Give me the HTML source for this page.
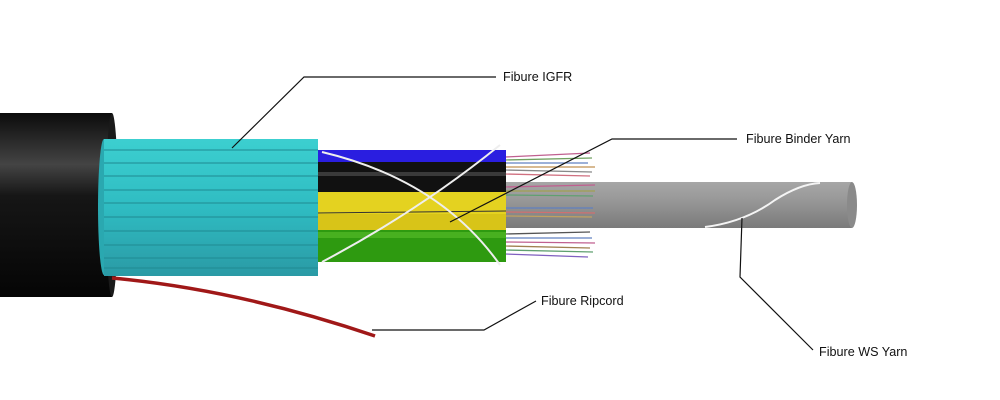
<!DOCTYPE html>
<html><head><meta charset="utf-8">
<style>
html,body{margin:0;padding:0;background:#fff;width:1000px;height:400px;overflow:hidden}
text{font-family:"Liberation Sans",sans-serif;font-size:12.6px;fill:#111}
</style></head>
<body>
<svg width="1000" height="400" viewBox="0 0 1000 400" xmlns="http://www.w3.org/2000/svg">
<defs>
<linearGradient id="jk" x1="0" y1="0" x2="0" y2="1">
<stop offset="0" stop-color="#0b0b0b"/><stop offset="0.28" stop-color="#444"/><stop offset="0.45" stop-color="#161616"/><stop offset="1" stop-color="#050505"/></linearGradient>
<linearGradient id="gr" x1="0" y1="0" x2="0" y2="1">
<stop offset="0" stop-color="#a6a6a6"/><stop offset="0.35" stop-color="#9a9a9a"/><stop offset="1" stop-color="#7a7a7a"/></linearGradient>
<linearGradient id="cy" x1="0" y1="0" x2="0" y2="1">
<stop offset="0" stop-color="#3ccfd0"/><stop offset="0.5" stop-color="#2fbcc2"/><stop offset="1" stop-color="#2a9aa5"/></linearGradient>
</defs>
<g>
<rect x="500" y="182" width="352" height="46" fill="url(#gr)"/>
<ellipse cx="852" cy="205" rx="5" ry="23" fill="#8a8a8a"/>
</g>
<g stroke-width="1.3">
<line x1="505" y1="157" x2="590" y2="153" stroke="#c06090"/><line x1="505" y1="160" x2="592" y2="158" stroke="#70a060"/>
<line x1="505" y1="163" x2="588" y2="163" stroke="#6080c0"/><line x1="505" y1="167" x2="595" y2="167" stroke="#c09050"/>
<line x1="505" y1="170" x2="592" y2="172" stroke="#888"/><line x1="505" y1="174" x2="590" y2="176" stroke="#d07080"/>
<line x1="505" y1="187" x2="595" y2="185" stroke="#c06090"/><line x1="505" y1="191" x2="595" y2="191" stroke="#a0a050"/>
<line x1="505" y1="195" x2="593" y2="196" stroke="#60a070"/><line x1="505" y1="208" x2="593" y2="208" stroke="#6080c0"/>
<line x1="505" y1="212" x2="595" y2="213" stroke="#d07070"/><line x1="505" y1="216" x2="592" y2="217" stroke="#c0a060"/>
<line x1="505" y1="234" x2="590" y2="232" stroke="#555"/><line x1="505" y1="238" x2="592" y2="238" stroke="#6080c0"/>
<line x1="505" y1="242" x2="595" y2="243" stroke="#c06090"/><line x1="505" y1="246" x2="590" y2="248" stroke="#a08050"/>
<line x1="505" y1="250" x2="593" y2="252" stroke="#60a070"/><line x1="505" y1="254" x2="588" y2="257" stroke="#8060c0"/>
</g>
<g>
<rect x="316" y="150" width="190" height="14" fill="#2a1ee0"/>
<rect x="316" y="162" width="190" height="32" fill="#111"/>
<rect x="316" y="172" width="190" height="4" fill="#3a3a3a"/>
<rect x="316" y="192" width="190" height="22" fill="#e4d220"/>
<rect x="316" y="214" width="190" height="16" fill="#d8c418"/>
<line x1="316" y1="213" x2="506" y2="211" stroke="#333" stroke-width="1"/>
<rect x="316" y="230" width="190" height="32" fill="#2e9a10"/>
<rect x="316" y="232" width="190" height="6" fill="#48b020"/>
</g>
<g fill="none" stroke="#eee" stroke-width="2">
<path d="M322 152 Q440 180 500 265"/>
<path d="M500 145 Q420 210 322 262"/>
</g>
<g>
<rect x="0" y="113" width="112" height="184" fill="url(#jk)"/>
<ellipse cx="112" cy="205" rx="6" ry="92" fill="#1a1a1a"/>
</g>
<g>
<ellipse cx="104" cy="207" rx="6" ry="68" fill="#2aa8b0"/>
<rect x="104" y="139" width="214" height="137" fill="url(#cy)"/>
<g stroke="#1f8a92" stroke-width="1">
<line x1="104" y1="150" x2="318" y2="150"/><line x1="104" y1="163" x2="318" y2="163"/>
<line x1="104" y1="176" x2="318" y2="176"/><line x1="104" y1="190" x2="318" y2="190"/>
<line x1="104" y1="203" x2="318" y2="203"/><line x1="104" y1="217" x2="318" y2="217"/>
<line x1="104" y1="231" x2="318" y2="231"/><line x1="104" y1="245" x2="318" y2="245"/>
<line x1="104" y1="258" x2="318" y2="258"/><line x1="104" y1="268" x2="318" y2="268"/>
</g>
</g>
<path d="M112 278 Q240 290 375 336" fill="none" stroke="#a01818" stroke-width="3.5"/>
<path d="M705 227 Q745 222 775 200 Q800 184 820 183" fill="none" stroke="#f4f4f4" stroke-width="2"/>
<g fill="none" stroke="#111" stroke-width="1.2">
<polyline points="232,148 304,77 496,77"/>
<polyline points="450,222 612,139 737,139"/>
<polyline points="372,330 484,330 536,301"/>
<polyline points="742,218 740,277 813,350"/>
</g>
<text x="503" y="81">Fibure IGFR</text>
<text x="746" y="143">Fibure Binder Yarn</text>
<text x="541" y="305">Fibure Ripcord</text>
<text x="819" y="356">Fibure WS Yarn</text>
</svg>
</body></html>
